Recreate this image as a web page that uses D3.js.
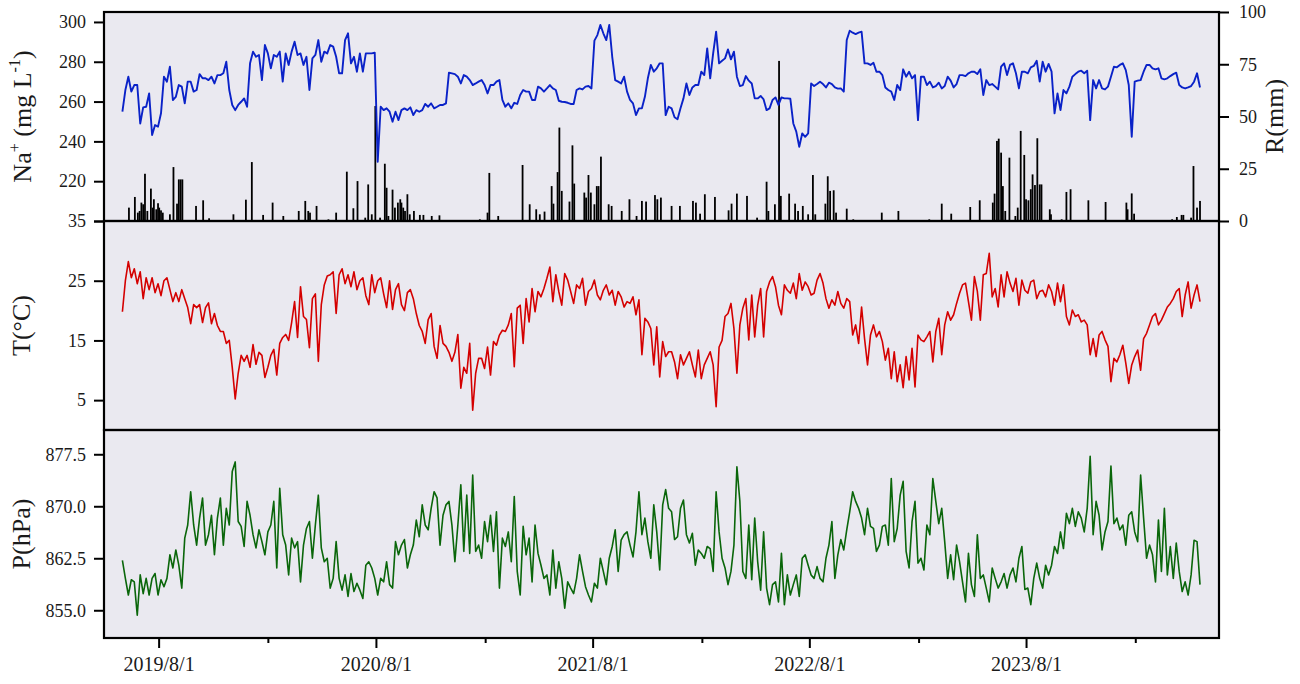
<!DOCTYPE html>
<html>
<head>
<meta charset="utf-8">
<script src="https://cdn.jsdelivr.net/npm/d3@7/dist/d3.min.js"></script>
<style>
  html, body { margin: 0; padding: 0; background: #ffffff; }
  svg { display: block; }
  text { font-family: "Liberation Serif", "Times New Roman", serif; fill: #1a1a1a; }
</style>
</head>
<body>
<svg id="chart" width="1300" height="684"></svg>
<script>
// Sampling of the daily series: one value every 5 days from 2019-06-01.
const seriesStart = "2019-06-01";
const seriesStepDays = 5;

// Na+ concentration (mg L-1)
const naValues = [
  254.9,265.8,272.5,265.0,268.3,268.3,249.0,257.1,257.4,264.1,
  243.2,248.2,247.4,254.1,272.5,270.0,277.5,260.8,262.4,268.3,
  267.5,259.1,270.0,270.0,265.0,265.8,273.8,271.7,271.7,270.8,
  272.5,269.1,273.3,273.3,274.2,280.0,265.8,258.3,255.7,258.3,
  259.9,261.6,257.4,279.2,285.1,282.5,283.4,270.8,288.4,284.2,
  276.7,283.4,282.5,285.1,270.0,284.2,278.4,285.1,290.1,283.4,
  284.2,278.4,282.5,265.8,281.7,283.4,290.9,280.0,285.1,284.2,
  288.4,287.6,282.5,274.2,274.2,290.9,294.3,279.2,282.5,275.0,
  284.2,275.0,284.2,284.2,284.2,284.6,229.8,257.4,255.7,256.6,
  254.9,249.9,254.9,250.7,255.7,256.6,255.7,257.1,253.2,255.7,
  254.9,255.7,258.8,257.4,259.1,256.6,257.4,258.3,258.3,259.1,
  274.5,274.2,273.8,272.5,269.1,273.3,272.5,270.8,268.3,269.1,
  270.0,270.8,268.3,264.1,268.3,268.3,270.0,270.8,
  260.8,257.4,259.1,256.6,259.4,258.8,263.3,265.8,265.0,265.0,
  260.8,260.8,267.5,266.6,265.0,266.6,268.3,266.6,265.8,260.4,
  259.9,259.8,259.4,258.8,258.8,265.8,266.6,266.1,267.5,267.8,
  266.6,290.6,293.4,298.5,294.3,290.9,298.5,282.5,270.8,270.0,
  269.1,272.5,265.0,260.8,259.1,253.2,256.6,256.6,262.4,271.7,
  278.4,275.0,276.7,279.2,279.2,253.2,257.4,256.6,252.1,251.1,
  256.6,261.6,269.1,263.3,267.1,268.3,268.3,275.0,273.3,286.7,
  271.7,284.2,295.1,279.2,280.5,281.7,286.2,281.2,285.1,272.5,
  267.8,268.3,272.8,270.5,269.1,261.6,261.6,262.8,261.1,255.7,
  256.6,260.8,262.1,258.3,262.1,261.6,261.6,261.4,249.0,244.9,
  237.3,244.0,242.3,244.0,269.1,267.8,268.8,270.0,268.8,267.1,
  269.5,268.8,267.1,266.5,266.6,265.0,290.9,295.6,294.6,293.9,
  294.6,295.1,279.2,279.2,278.4,279.5,275.0,275.0,273.3,267.1,
  265.8,265.0,260.8,268.3,
  265.8,276.2,272.5,275.0,271.7,273.3,250.7,272.5,272.5,268.3,
  270.0,267.1,267.8,269.5,266.6,267.8,272.5,270.5,267.1,268.8,
  273.3,273.3,272.8,274.2,275.0,275.0,273.8,276.2,263.3,270.8,
  268.3,268.8,267.5,266.1,277.5,279.2,273.3,278.4,279.2,274.2,
  266.6,275.0,275.0,274.2,277.2,277.9,280.5,270.0,280.0,275.0,
  278.9,275.0,254.1,264.1,255.7,265.8,264.1,267.5,272.5,273.8,
  275.0,275.5,274.2,275.5,250.7,270.8,266.6,270.8,266.6,266.1,
  267.5,272.5,277.5,277.2,278.4,279.2,275.8,268.3,242.3,270.0,
  270.5,270.8,275.0,278.4,278.4,276.7,276.2,276.7,271.7,271.2,
  271.7,272.8,273.8,274.5,268.3,267.1,266.6,267.1,267.8,270.0,
  274.2,267.1
];

// Air temperature (°C)
const tempValues = [
  19.8,25.0,28.2,25.5,27.0,24.5,26.5,22.0,25.5,23.5,
  25.5,23.0,24.5,22.5,25.0,25.5,23.5,21.5,23.0,21.5,
  23.5,22.0,20.5,17.8,21.0,20.5,21.0,18.0,20.5,21.3,
  17.8,19.5,17.5,16.5,16.5,14.5,15.0,10.5,5.2,9.5,
  12.5,11.5,12.5,10.5,14.3,11.0,13.0,12.5,8.8,10.5,
  12.5,13.5,9.2,14.5,15.5,16.0,15.0,18.0,21.5,15.5,
  24.0,19.0,18.5,13.8,22.0,22.8,11.5,21.0,24.3,25.8,
  26.0,26.5,19.5,26.0,27.0,24.5,26.0,24.0,26.5,23.5,
  25.0,25.5,22.5,21.0,26.0,23.0,25.0,25.5,22.8,20.5,
  25.0,20.2,23.5,24.5,21.0,20.0,23.0,23.5,22.0,19.5,
  17.5,16.5,14.5,18.5,19.5,14.0,12.0,17.5,14.5,14.0,
  13.0,11.5,13.0,16.0,7.0,10.5,9.5,14.5,3.3,9.5,12.0,
  12.0,10.3,13.9,9.2,14.8,14.2,15.9,16.7,16.5,17.6,
  19.5,10.6,20.4,20.9,14.5,22.0,18.1,23.7,19.8,23.2,
  22.3,23.7,25.4,27.3,21.5,26.0,23.2,20.9,26.2,25.1,
  23.2,21.2,24.3,23.7,25.4,20.9,23.2,23.7,25.1,22.6,
  21.8,23.4,24.3,22.6,23.4,20.9,23.2,22.3,20.6,21.5,
  21.2,22.3,19.3,21.8,12.6,18.7,18.1,17.0,10.9,17.3,
  8.9,14.8,12.3,13.1,13.1,11.4,8.6,12.6,10.9,12.0,
  13.1,10.9,8.9,13.4,8.6,10.9,12.0,13.1,10.9,3.9,
  13.9,15.0,19.0,19.5,21.2,17.0,9.5,17.6,20.4,22.0,
  15.1,22.6,15.6,20.9,23.7,15.6,23.2,24.8,25.7,24.0,
  20.9,19.3,24.3,23.4,22.9,24.6,22.0,26.2,23.4,24.8,
  24.0,22.6,22.9,25.1,26.2,24.6,22.0,20.4,21.8,20.9,
  23.2,21.2,20.4,22.0,21.5,15.9,17.6,14.5,
  20.6,15.3,10.9,15.9,17.6,15.6,16.5,14.8,11.7,13.7,
  8.6,13.1,8.1,10.9,7.1,12.3,8.4,13.7,7.2,15.9,
  15.1,14.8,15.6,16.5,11.4,16.5,18.7,12.6,17.6,19.8,
  18.4,19.3,21.2,22.9,24.3,24.6,21.5,18.4,25.7,23.2,
  18.4,26.0,26.2,29.6,22.3,23.7,20.6,26.0,22.3,26.5,
  24.6,23.2,25.4,20.9,25.1,23.4,22.9,24.8,25.1,22.0,
  23.2,23.4,22.3,24.3,23.2,20.9,24.6,21.5,24.3,19.0,
  17.6,20.1,19.0,19.3,18.1,18.4,17.6,12.6,15.3,12.3,
  15.9,16.5,15.1,14.0,8.1,12.0,11.4,12.6,14.2,11.2,
  7.8,10.9,12.3,13.4,10.0,15.3,16.2,17.6,19.0,19.5,
  17.6,18.4,19.5,20.6,21.2,22.0,23.2,23.7,19.0,22.6,
  24.8,20.4,22.6,24.3,21.5
];

// Air pressure (hPa)
const pressValues = [
  862.2,859.6,857.2,859.4,859.1,854.3,860.1,857.4,859.6,857.2,
  859.6,860.3,857.2,859.4,858.4,859.6,863.0,861.1,863.7,861.5,
  858.2,865.4,867.3,872.1,867.3,864.4,868.3,871.2,864.4,865.9,
  868.7,863.0,868.3,871.2,864.4,869.7,867.3,875.0,876.4,867.8,
  867.1,864.2,870.7,868.7,865.9,864.0,866.6,864.9,863.0,866.3,
  867.3,870.7,861.1,872.6,865.9,864.4,860.1,865.4,864.0,864.9,
  859.1,864.4,866.8,867.8,862.5,867.3,871.6,864.0,862.0,862.5,
  858.2,859.6,864.9,859.6,857.9,860.1,857.0,860.3,857.7,858.9,
  857.9,856.7,861.5,862.0,861.1,859.6,857.2,859.6,859.1,862.0,
  858.7,858.2,864.9,863.0,864.4,865.2,861.1,863.0,864.4,868.0,
  865.6,870.2,867.3,866.6,869.7,872.1,871.2,864.4,868.7,870.2,
  870.7,867.3,862.0,867.3,873.1,863.5,871.6,863.2,874.5,863.5,864.4,
  862.5,867.8,864.9,868.7,863.5,869.2,858.2,865.4,864.2,866.3,
  862.0,871.4,860.6,857.2,867.1,863.0,865.4,859.1,867.3,863.2,
  861.5,859.6,860.1,857.2,863.7,858.2,862.0,859.6,855.3,859.1,
  858.2,857.4,859.6,863.0,860.6,858.4,857.2,856.2,858.9,858.2,
  862.5,860.6,858.7,862.5,864.2,866.6,860.6,865.1,865.9,866.3,
  864.4,862.7,866.3,872.1,865.9,868.3,864.9,862.5,870.2,866.3,
  860.8,870.2,872.4,869.7,869.2,865.2,865.6,869.7,870.9,865.9,
  864.7,866.1,861.5,863.7,863.2,862.5,864.2,863.9,860.6,872.1,
  866.3,862.5,861.1,858.7,860.6,864.4,875.7,870.7,860.6,859.6,
  867.3,859.4,868.3,862.0,857.9,866.3,858.2,855.8,858.7,859.1,
  856.2,863.2,855.8,860.1,857.2,858.7,860.1,857.0,862.5,863.0,
  861.5,860.1,859.6,861.3,859.6,859.1,862.5,864.4,867.8,859.6,
  863.0,865.2,863.7,866.6,869.2,872.1,870.7,869.7,
  868.3,865.9,869.7,867.1,866.8,863.5,864.4,867.1,867.3,864.4,
  874.0,864.9,866.8,871.6,873.6,863.5,861.1,867.8,870.7,861.8,
  862.5,860.8,867.3,865.9,874.0,870.7,867.5,869.7,864.9,859.6,
  863.0,859.4,864.4,862.0,859.1,856.2,863.2,858.7,857.0,865.9,
  859.6,860.1,858.2,856.2,861.1,859.6,858.2,859.1,860.3,858.2,
  860.1,861.1,859.1,862.5,864.2,858.0,858.2,855.8,859.6,861.8,
  859.6,858.2,861.5,860.1,861.5,864.2,863.2,866.3,863.9,869.0,
  867.5,869.7,867.1,869.2,868.3,866.3,869.7,877.2,865.9,870.7,
  868.7,863.7,866.3,867.8,875.8,867.5,868.3,866.6,867.3,864.4,
  868.7,869.2,866.3,864.9,874.5,868.3,862.5,864.4,863.0,859.1,
  868.0,860.6,869.7,860.1,864.2,859.6,864.7,860.6,857.7,859.1,
  857.2,860.1,865.1,864.9,858.7
];

// Rainfall events: day offset from 2019-06-01 and amount (mm)
const rainDays = [
  11,21,26,29,32,35,38,42,48,51,53,57,60,62,65,68,80,86,92,95,98,101,
  124,136,146,187,208,218,237,253,271,297,308,313,316,327,347,360,378,389,
  396,409,414,420,426,434,442,445,448,455,459,464,468,470,473,476,480,484,
  491,501,507,521,534,602,615,618,633,
  674,686,697,703,711,723,726,733,736,740,753,758,761,778,781,785,789,795,
  799,802,806,819,824,841,854,866,875,882,897,901,907,925,939,961,966,973,
  981,998,1021,1026,1035,1052,1069,1085,1088,1099,1106,1109,1123,1133,1138,
  1146,1155,1163,1167,1184,1188,1192,1198,1202,1220,1231,1279,1307,
  1359,1380,1396,1428,1444,1466,1469,1473,1476,1480,1483,1487,1494,1504,
  1508,1513,1519,1522,1526,1530,1533,1537,1541,1545,1548,1562,1564,1582,
  1590,1597,1627,1656,1691,1693,1700,1704,1768,1776,1784,1787,1800,1804,
  1810,1815
];
const rainMM = [
  6.4,11.5,4.0,4.8,8.8,8.0,22.6,4.8,15.5,6.4,10.4,5.6,8.5,6.4,5.1,4.0,3.2,25.8,8.3,19.9,19.9,19.9,
  7.2,9.9,1.3,3.2,10.2,28.2,2.9,8.8,2.4,4.8,9.6,4.8,4.0,7.2,0.8,4.0,23.6,6.1,
  19.1,1.6,17.5,3.2,55.0,1.6,27.4,15.9,2.4,15.0,6.4,8.8,10.4,8.8,6.4,4.8,12.8,3.2,
  4.8,2.9,2.9,2.4,2.7,0.8,4.0,23.0,2.4,
  26.8,8.0,5.6,3.2,4.5,16.7,8.3,23.4,44.7,14.4,9.3,36.2,17.9,13.6,11.2,22.0,13.6,8.0,
  16.7,16.7,30.8,8.0,7.2,4.8,10.4,2.4,9.6,9.3,12.4,10.4,11.2,7.2,7.2,9.6,8.8,3.5,
  12.8,11.5,5.1,8.3,13.1,12.0,1.6,18.8,4.8,8.0,76.6,12.0,13.1,8.3,4.8,
  7.2,3.2,22.0,3.2,8.3,21.4,14.4,14.7,4.0,5.9,0.8,4.0,4.8,
  0.8,8.3,3.5,6.7,9.9,8.8,13.1,38.3,39.4,32.7,16.7,4.8,30.3,2.4,
  6.4,43.1,31.6,10.4,9.9,15.2,22.3,17.2,39.6,17.5,17.5,5.6,3.2,0.8,
  13.9,15.2,9.9,9.1,8.8,5.6,13.2,3.5,0.8,1.9,2.9,2.9,1.6,26.3,
  6.4,9.6
];

// Axis ticks
const naTicks = [200, 220, 240, 260, 280, 300];
const rainTicks = [0, 25, 50, 75, 100];
const tempTicks = [5, 15, 25, 35];
const pressTicks = [855.0, 862.5, 870.0, 877.5];
const majorTickDates = ["2019-08-01", "2020-08-01", "2021-08-01", "2022-08-01", "2023-08-01"];
const minorTickDates = ["2020-02-01", "2021-02-01", "2022-02-01", "2023-02-01", "2024-02-01"];

const parse = d3.utcParse("%Y-%m-%d");
const start = parse(seriesStart);
const dateAt = i => d3.utcDay.offset(start, i * seriesStepDays);

const svg = d3.select("#chart");
const left = 104, right = 1219;
const panels = [
  { top: 12, bottom: 221 },
  { top: 221, bottom: 430 },
  { top: 430, bottom: 638 }
];
const bg = "#eae9f0";

const x = d3.scaleUtc()
  .domain([parse("2019-05-01"), parse("2024-06-21")])
  .range([left, right]);

const yNa = d3.scaleLinear().domain([200, 305]).range([panels[0].bottom, panels[0].top]);
const yRain = d3.scaleLinear().domain([0, 100]).range([panels[0].bottom, panels[0].top]);
const yTemp = d3.scaleLinear().domain([0, 35]).range([panels[1].bottom, panels[1].top]);
const yPress = d3.scaleLinear().domain([851, 881]).range([panels[2].bottom, panels[2].top]);

// panel backgrounds
panels.forEach(p => {
  svg.append("rect")
    .attr("x", left).attr("y", p.top)
    .attr("width", right - left).attr("height", p.bottom - p.top)
    .attr("fill", bg);
});

// rainfall bars
const barW = 1.8;
svg.append("g").selectAll("rect")
  .data(rainDays.map((d, i) => ({ date: d3.utcDay.offset(start, d), mm: rainMM[i] })))
  .join("rect")
  .attr("x", d => x(d.date) - barW / 2)
  .attr("y", d => yRain(d.mm))
  .attr("width", barW)
  .attr("height", d => yRain(0) - yRain(d.mm))
  .attr("fill", "#000");

function drawLine(values, yScale, color, width) {
  const line = d3.line()
    .x((d, i) => x(dateAt(i)))
    .y(d => yScale(d));
  svg.append("path")
    .datum(values)
    .attr("d", line)
    .attr("fill", "none")
    .attr("stroke", color)
    .attr("stroke-width", width)
    .attr("stroke-linejoin", "round");
}

drawLine(naValues, yNa, "#0a22c8", 1.9);
drawLine(tempValues, yTemp, "#d40000", 1.6);
drawLine(pressValues, yPress, "#0a660a", 1.6);

// frames
panels.forEach(p => {
  svg.append("rect")
    .attr("x", left).attr("y", p.top)
    .attr("width", right - left).attr("height", p.bottom - p.top)
    .attr("fill", "none")
    .attr("stroke", "#000")
    .attr("stroke-width", 2.2);
});

function styleAxis(g, fontSize) {
  g.select(".domain").remove();
  g.selectAll(".tick line").attr("stroke", "#000").attr("stroke-width", 2);
  g.selectAll(".tick text")
    .attr("font-size", fontSize)
    .attr("font-family", "'Liberation Serif', 'Times New Roman', serif")
    .attr("fill", "#1a1a1a");
}

// left axes
svg.append("g").attr("transform", `translate(${left},0)`)
  .call(d3.axisLeft(yNa).tickValues(naTicks).tickSize(10).tickPadding(8)
    .tickFormat(d => d === 200 ? "" : d3.format("d")(d)))
  .call(g => styleAxis(g, 18));

svg.append("g").attr("transform", `translate(${left},0)`)
  .call(d3.axisLeft(yTemp).tickValues(tempTicks).tickSize(10).tickPadding(8)
    .tickFormat(d3.format("d")))
  .call(g => styleAxis(g, 18));

svg.append("g").attr("transform", `translate(${left},0)`)
  .call(d3.axisLeft(yPress).tickValues(pressTicks).tickSize(10).tickPadding(8)
    .tickFormat(d3.format(".1f")))
  .call(g => styleAxis(g, 18));

// right axis for rainfall
svg.append("g").attr("transform", `translate(${right},0)`)
  .call(d3.axisRight(yRain).tickValues(rainTicks).tickSize(10).tickPadding(10)
    .tickFormat(d3.format("d")))
  .call(g => styleAxis(g, 18));

// bottom time axis: labelled August ticks and short February ticks
const fmt = d3.utcFormat("%Y/%-m/%-d");
svg.append("g").attr("transform", `translate(0,${panels[2].bottom})`)
  .call(d3.axisBottom(x).tickValues(majorTickDates.map(parse)).tickSize(10).tickPadding(9)
    .tickFormat(fmt))
  .call(g => styleAxis(g, 20));

svg.append("g").attr("transform", `translate(0,${panels[2].bottom})`)
  .call(d3.axisBottom(x).tickValues(minorTickDates.map(parse)).tickSize(5).tickFormat(""))
  .call(g => styleAxis(g, 20));

// axis titles
const titleSize = 26;
const naTitle = svg.append("text")
  .attr("transform", `translate(31,${(panels[0].top + panels[0].bottom) / 2}) rotate(-90)`)
  .attr("text-anchor", "middle")
  .attr("font-size", titleSize);
naTitle.append("tspan").text("Na");
naTitle.append("tspan").attr("font-size", titleSize * 0.62).attr("dy", -11).text("+");
naTitle.append("tspan").attr("dy", 11).text(" (mg L");
naTitle.append("tspan").attr("font-size", titleSize * 0.62).attr("dy", -11).text("-1");
naTitle.append("tspan").attr("dy", 11).text(")");

svg.append("text")
  .attr("transform", `translate(30,${(panels[1].top + panels[1].bottom) / 2}) rotate(-90)`)
  .attr("text-anchor", "middle")
  .attr("font-size", titleSize)
  .text("T(°C)");

svg.append("text")
  .attr("transform", `translate(30,${(panels[2].top + panels[2].bottom) / 2}) rotate(-90)`)
  .attr("text-anchor", "middle")
  .attr("font-size", titleSize)
  .text("P(hPa)");

svg.append("text")
  .attr("transform", `translate(1283,${(panels[0].top + panels[0].bottom) / 2}) rotate(-90)`)
  .attr("text-anchor", "middle")
  .attr("font-size", titleSize)
  .text("R(mm)");
</script>
</body>
</html>
